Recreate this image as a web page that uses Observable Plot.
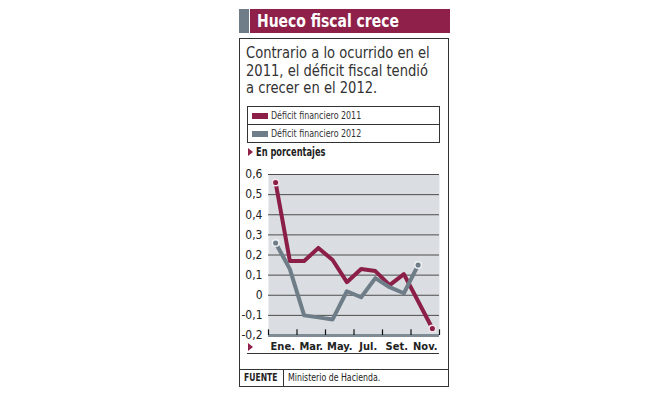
<!DOCTYPE html>
<html>
<head>
<meta charset="utf-8">
<script src="https://cdn.jsdelivr.net/npm/d3@7"></script>
<script src="https://cdn.jsdelivr.net/npm/@observablehq/plot@0.6"></script>
<style>
  html, body { margin: 0; padding: 0; background: #fff; }
  #wrap { position: relative; width: 653px; height: 398px; overflow: hidden;
          font-family: "DejaVu Sans Condensed", "DejaVu Sans", sans-serif; color: #222; }
  .abs { position: absolute; }
  .sq { display: inline-block; transform-origin: 0 50%; white-space: nowrap; }
  #titleGray { left: 239px; top: 9px; width: 10px; height: 24px; background: #6e7d88; }
  #titleBar { left: 250px; top: 9px; width: 200px; height: 24px; background: #8e2049; }
  #title { left: 257px; top: 9px; height: 24px; line-height: 24px; color: #fff; font-weight: bold; font-size: 18px; white-space: nowrap; }
  #title .sq { transform: scaleX(0.86); }
  #box { left: 239px; top: 38px; width: 208px; height: 331px; border: 1px solid #333; border-bottom: none; }
  #subtitle { left: 246px; top: 45px; font-size: 15.5px; line-height: 17.5px; color: #333; white-space: nowrap; }
  #subtitle .sq { transform: scaleX(0.94); }
  #legend { left: 247px; top: 106px; width: 191px; height: 35px; border: 1px solid #333; }
  .lrow { position: absolute; left: 0; width: 191px; height: 17px; font-size: 10.5px; line-height: 17px; color: #333; }
  .lrow .sw { position: absolute; left: 4px; top: 6px; width: 16px; height: 6px; }
  .lrow .lt { position: absolute; left: 23px; top: 0; white-space: nowrap; transform: scaleX(0.84); transform-origin: 0 50%; }
  #lrow2 { border-top: 1px solid #333; }
  #unitTri { left: 248px; top: 148px; width: 0; height: 0; border-top: 4px solid transparent; border-bottom: 4px solid transparent; border-left: 5px solid #8e2049; }
  #unit { left: 256px; top: 145px; font-size: 11.5px; font-weight: bold; line-height: 14px; white-space: nowrap; }
  #unit .sq { transform: scaleX(0.8); }
  #chart { left: 239px; top: 160px; }
  #baseLine { left: 247px; top: 353px; width: 192px; height: 1px; background: #333; }
  #baseTri { left: 248px; top: 343px; width: 0; height: 0; border-top: 4px solid transparent; border-bottom: 4px solid transparent; border-left: 5px solid #8e2049; }
  #fuente { left: 239px; top: 369px; width: 208px; height: 16px; border: 1px solid #333; font-size: 10px; line-height: 16px; color: #222; }
  #fuente .k { position: absolute; left: 4px; top: 0; font-weight: bold; transform: scaleX(0.85); transform-origin: 0 50%; }
  #fuente .div { position: absolute; left: 43px; top: 0; width: 1px; height: 16px; background: #333; }
  #fuente .v { position: absolute; left: 48px; top: 0; white-space: nowrap; transform: scaleX(0.87); transform-origin: 0 50%; }
</style>
</head>
<body>
<div id="wrap">
  <div class="abs" id="titleGray"></div>
  <div class="abs" id="titleBar"></div>
  <div class="abs" id="title"><span class="sq">Hueco fiscal crece</span></div>
  <div class="abs" id="box"></div>
  <div class="abs" id="subtitle"><span class="sq">Contrario a lo ocurrido en el<br>2011, el déficit fiscal tendió<br>a crecer en el 2012.</span></div>
  <div class="abs" id="legend"></div>
  <div class="abs" id="unitTri"></div>
  <div class="abs" id="unit"><span class="sq">En porcentajes</span></div>
  <div class="abs" id="chart"></div>
  <div class="abs" id="baseLine"></div>
  <div class="abs" id="baseTri"></div>
  <div class="abs" id="fuente"><span class="k">FUENTE</span><span class="div"></span><span class="v">Ministerio de Hacienda.</span></div>
</div>
<script>
// ---- Data ----
const months = ["Ene", "Feb", "Mar", "Abr", "May", "Jun", "Jul", "Ago", "Set", "Oct", "Nov", "Dic"];
const deficit2011 = [0.56, 0.17, 0.17, 0.235, 0.175, 0.065, 0.13, 0.12, 0.05, 0.105, -0.03, -0.165];
const deficit2012 = [0.26, 0.13, -0.10, -0.11, -0.12, 0.02, -0.01, 0.085, 0.04, 0.01, 0.15];
const seriesNames = ["Déficit financiero 2011", "Déficit financiero 2012"];
const seriesColors = ["#8c1f48", "#6e7d88"];
const xTickLabels = ["Ene.", "Mar.", "May.", "Jul.", "Set.", "Nov."];
const yTicks = [-0.2, -0.1, 0, 0.1, 0.2, 0.3, 0.4, 0.5, 0.6];

// ---- Legend ----
const legend = document.getElementById("legend");
seriesNames.forEach((name, i) => {
  const row = document.createElement("div");
  row.className = "lrow";
  if (i === 1) row.id = "lrow2";
  row.style.top = (i * 17) + "px";
  row.innerHTML = `<span class="sw" style="background:${seriesColors[i]}"></span><span class="lt">${name}</span>`;
  legend.appendChild(row);
});

// ---- Chart ----
const rows2011 = deficit2011.map((v, i) => ({m: i + 1, v}));
const rows2012 = deficit2012.map((v, i) => ({m: i + 1, v}));
const boundaries = d3.range(0, 13, 2).map(d => d + 0.5);      // tick marks between month pairs
const labelPos = d3.range(0, 12, 2).map(d => d + 1.5);         // labels centered in each pair
const fmt = d => d === 0 ? "0" : d.toFixed(1).replace(".", ",");

const chart = Plot.plot({
  width: 209,
  height: 200,
  marginLeft: 29,
  marginRight: 9,
  marginTop: 14,
  marginBottom: 25,
  style: {fontFamily: '"DejaVu Sans Condensed", "DejaVu Sans", sans-serif', background: "transparent", color: "#222"},
  x: {domain: [0.5, 12.5]},
  y: {domain: [-0.2, 0.6]},
  marks: [
    Plot.frame({fill: "#dadde1", stroke: null}),
    Plot.ruleY(yTicks.filter(d => d > -0.2), {stroke: "#4d4d4d", strokeWidth: 1}),
    Plot.ruleY([-0.2], {stroke: "#7f8b95", strokeWidth: 3}),
    Plot.ruleX(boundaries, {y1: -0.2, y2: -0.172, stroke: "#111", strokeWidth: 1.2}),
    Plot.line(rows2011, {x: "m", y: "v", stroke: seriesColors[0], strokeWidth: 4}),
    Plot.line(rows2012, {x: "m", y: "v", stroke: seriesColors[1], strokeWidth: 4}),
    Plot.dot(rows2011, {filter: (d, i) => i === 0 || i === rows2011.length - 1, x: "m", y: "v", r: 3.3, fill: seriesColors[0], stroke: "#f3e4ea", strokeWidth: 1.5}),
    Plot.dot(rows2012, {filter: (d, i) => i === 0 || i === rows2012.length - 1, x: "m", y: "v", r: 3.3, fill: seriesColors[1], stroke: "#eef1f3", strokeWidth: 1.5}),
    Plot.axisY({ticks: yTicks, tickFormat: fmt, tickSize: 0, tickPadding: 6, fontSize: 12, label: null}),
    Plot.axisX({ticks: labelPos, tickFormat: (d, i) => xTickLabels[i], tickSize: 0, tickPadding: 7, fontSize: 11, fontWeight: "bold", label: null})
  ]
});
document.getElementById("chart").appendChild(chart);
</script>
</body>
</html>
